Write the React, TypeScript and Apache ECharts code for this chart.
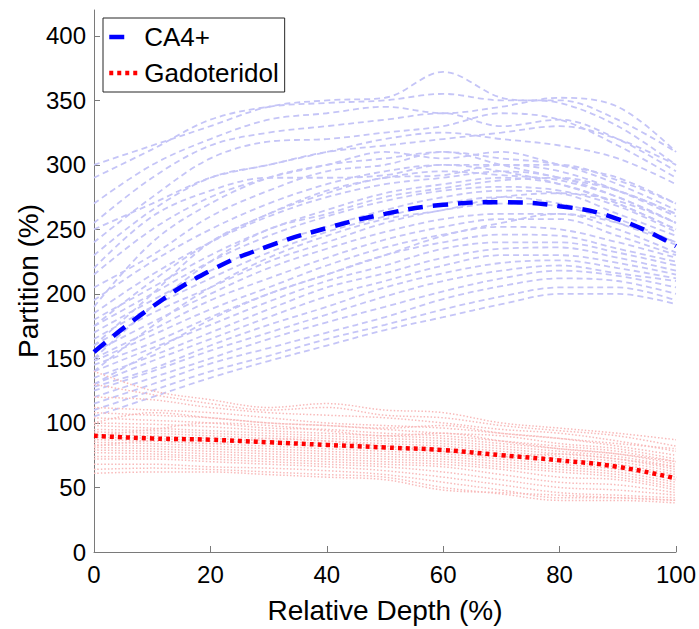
import React, { useEffect, useRef } from "react";
import * as echarts from "echarts";

const DEPTH = [0, 10, 20, 30, 40, 50, 60, 70, 80, 90, 100];
const X_TICKS = [0, 20, 40, 60, 80, 100];
const Y_TICKS = [0, 50, 100, 150, 200, 250, 300, 350, 400];

const CA4_MEAN = [155, 190, 218, 237, 251, 262, 269, 271, 268, 258, 237];
const GADO_MEAN = [90, 88, 87, 85, 83, 81, 79, 75, 71, 66, 57];

const CA4_SAMPLES = [
  [300, 315, 330, 345, 350, 352, 372, 352, 348, 330, 300],
  [290, 312, 335, 345, 348, 350, 355, 350, 350, 335, 310],
  [270, 300, 320, 335, 340, 345, 340, 345, 352, 345, 310],
  [255, 290, 315, 325, 330, 335, 340, 330, 335, 320, 295],
  [240, 275, 305, 318, 320, 325, 330, 340, 335, 315, 290],
  [230, 265, 290, 300, 310, 320, 325, 320, 315, 305, 285],
  [215, 250, 275, 290, 300, 310, 305, 310, 300, 290, 270],
  [205, 230, 260, 280, 295, 300, 310, 305, 300, 285, 265],
  [195, 225, 250, 270, 285, 295, 300, 300, 295, 280, 260],
  [185, 215, 240, 260, 275, 285, 290, 295, 290, 275, 255],
  [180, 205, 230, 250, 265, 278, 285, 290, 285, 270, 250],
  [175, 200, 225, 245, 260, 272, 280, 283, 280, 268, 248],
  [170, 195, 218, 238, 252, 265, 275, 280, 278, 262, 245],
  [165, 190, 212, 232, 248, 260, 270, 275, 270, 258, 240],
  [160, 185, 205, 225, 240, 255, 265, 270, 268, 255, 238],
  [155, 178, 200, 220, 235, 248, 258, 262, 262, 250, 232],
  [150, 172, 195, 212, 228, 242, 252, 258, 258, 245, 230],
  [148, 168, 188, 205, 222, 236, 246, 252, 250, 240, 228],
  [145, 162, 182, 200, 215, 230, 240, 246, 245, 235, 225],
  [140, 158, 176, 194, 210, 222, 235, 240, 240, 232, 222],
  [135, 152, 170, 188, 205, 216, 228, 235, 236, 228, 218],
  [130, 148, 165, 182, 198, 210, 222, 230, 230, 224, 215],
  [128, 142, 160, 176, 190, 205, 216, 224, 226, 220, 212],
  [125, 140, 156, 170, 184, 198, 210, 218, 222, 216, 210],
  [120, 135, 150, 165, 178, 190, 202, 212, 218, 214, 205],
  [115, 130, 146, 158, 170, 182, 196, 206, 212, 210, 200],
  [110, 125, 140, 152, 165, 176, 188, 198, 205, 205, 195],
  [105, 120, 135, 148, 160, 172, 182, 192, 200, 200, 192],
  [160, 200, 240, 262, 280, 290, 295, 292, 288, 275, 255],
  [190, 240, 270, 290, 300, 305, 310, 300, 290, 280, 262],
  [150, 190, 225, 250, 262, 275, 282, 288, 290, 280, 262],
  [140, 175, 205, 228, 245, 258, 265, 275, 278, 272, 255],
  [220, 260, 280, 290, 290, 292, 300, 295, 285, 270, 250],
  [175, 210, 240, 262, 278, 290, 292, 300, 300, 288, 270],
  [130, 155, 180, 200, 215, 230, 245, 255, 262, 255, 240],
  [250, 270, 290, 300, 310, 315, 320, 325, 330, 320, 300],
];

const GADO_SAMPLES = [
  [140, 125, 118, 112, 115, 110, 108, 100, 96, 92, 87],
  [130, 122, 115, 110, 112, 106, 104, 98, 94, 90, 82],
  [120, 118, 112, 108, 106, 104, 100, 95, 92, 86, 78],
  [112, 110, 108, 104, 100, 98, 96, 92, 88, 82, 75],
  [108, 106, 104, 100, 98, 95, 92, 90, 84, 80, 72],
  [104, 102, 100, 96, 95, 92, 90, 86, 82, 78, 70],
  [100, 99, 97, 94, 92, 90, 88, 84, 80, 76, 68],
  [98, 96, 94, 92, 90, 88, 86, 82, 78, 74, 66],
  [95, 94, 92, 90, 88, 86, 84, 80, 76, 72, 64],
  [93, 92, 90, 88, 86, 84, 82, 78, 74, 70, 62],
  [91, 90, 88, 86, 84, 82, 80, 76, 72, 68, 60],
  [89, 88, 86, 84, 82, 80, 78, 74, 70, 66, 58],
  [87, 86, 84, 82, 80, 78, 76, 72, 68, 64, 56],
  [85, 84, 82, 80, 78, 76, 74, 70, 66, 62, 54],
  [83, 82, 80, 78, 76, 74, 72, 68, 64, 60, 52],
  [81, 80, 78, 76, 74, 72, 70, 66, 62, 58, 50],
  [79, 78, 76, 74, 72, 70, 68, 64, 58, 56, 48],
  [77, 76, 74, 72, 70, 68, 66, 60, 54, 52, 46],
  [74, 74, 72, 70, 68, 66, 62, 56, 50, 48, 44],
  [72, 72, 70, 68, 66, 63, 58, 52, 46, 44, 42],
  [68, 68, 66, 65, 63, 60, 54, 48, 42, 42, 40],
  [64, 65, 64, 62, 60, 58, 50, 45, 40, 40, 38],
  [61, 62, 62, 60, 58, 56, 48, 46, 44, 42, 40],
  [90, 95, 100, 98, 94, 90, 92, 86, 80, 76, 70],
  [100, 108, 104, 100, 98, 96, 98, 92, 88, 84, 80],
  [82, 86, 84, 88, 86, 82, 78, 74, 76, 72, 66],
];

const FONT = "'Liberation Sans', Arial, Helvetica, sans-serif";
const AXIS_COLOR = "#7a7a7a";

function toPoints(vals: number[]) {
  return DEPTH.map((d, i) => [d, vals[i]]);
}

export default function App() {
  const ref = useRef<HTMLDivElement>(null);
  useEffect(() => {
    document.body.style.margin = "0";
    if (!ref.current) return;
    const chart = echarts.init(ref.current, undefined, { renderer: "svg" });

    const blueThin = CA4_SAMPLES.map((vals, k) => ({
      name: "ca4_" + k,
      type: "line",
      data: toPoints(vals),
      symbol: "none",
      smooth: 0.35,
      silent: true,
      z: 1,
      lineStyle: { color: "#c5c5f7", width: 1.8, type: [6, 4] },
    }));
    const redThin = GADO_SAMPLES.map((vals, k) => ({
      name: "gado_" + k,
      type: "line",
      data: toPoints(vals),
      symbol: "none",
      smooth: 0.35,
      silent: true,
      z: 1,
      lineStyle: { color: "#f8baba", width: 1.5, type: [1.5, 2] },
    }));

    chart.setOption({
      animation: false,
      backgroundColor: "#ffffff",
      textStyle: { fontFamily: FONT },
      grid: { left: 94, right: 22, top: 10, bottom: 77, containLabel: false },
      legend: {
        data: [
          { name: "CA4+", lineStyle: { width: 4.5, type: [15, 15] } },
          { name: "Gadoteridol", lineStyle: { width: 4.5, type: [4, 4] } },
        ],
        orient: "vertical",
        left: 103,
        top: 18,
        padding: [6, 6, 6, 4],
        itemGap: 10,
        itemWidth: 30,
        itemHeight: 14,
        borderColor: "#262626",
        borderWidth: 1,
        backgroundColor: "#ffffff",
        itemStyle: { opacity: 0 },
        lineStyle: { width: 4.5 },
        textStyle: { fontSize: 26, color: "#000", fontFamily: FONT },
      },
      xAxis: {
        type: "value",
        min: 0,
        max: 100,
        interval: 20,
        name: "Relative Depth (%)",
        nameLocation: "middle",
        nameGap: 44,
        nameMoveOverlap: false,
        nameTextStyle: { fontSize: 28, color: "#000", fontFamily: FONT },
        axisLine: { show: true, lineStyle: { color: AXIS_COLOR, width: 1 } },
        axisTick: { show: true, inside: true, length: 6, lineStyle: { color: AXIS_COLOR }, customValues: X_TICKS },
        axisLabel: { fontSize: 24, color: "#000", margin: 10, fontFamily: FONT, customValues: X_TICKS },
        splitLine: { show: false },
      },
      yAxis: {
        type: "value",
        min: 0,
        max: 420,
        name: "Partition (%)",
        nameLocation: "middle",
        nameGap: 52,
        nameMoveOverlap: false,
        nameTextStyle: { fontSize: 28, color: "#000", fontFamily: FONT },
        axisLine: { show: true, lineStyle: { color: AXIS_COLOR, width: 1 } },
        axisTick: { show: true, inside: true, length: 6, lineStyle: { color: AXIS_COLOR }, customValues: Y_TICKS },
        axisLabel: { fontSize: 24, color: "#000", margin: 8, fontFamily: FONT, customValues: Y_TICKS },
        splitLine: { show: false },
      },
      series: [
        ...blueThin,
        ...redThin,
        {
          name: "CA4+",
          type: "line",
          data: toPoints(CA4_MEAN),
          symbol: "none",
          smooth: true,
          z: 5,
          itemStyle: { color: "#0000ff" },
          lineStyle: { color: "#0000ff", width: 4.5, type: [15, 10] },
        },
        {
          name: "Gadoteridol",
          type: "line",
          data: toPoints(GADO_MEAN),
          symbol: "none",
          smooth: true,
          z: 5,
          itemStyle: { color: "#ff0000" },
          lineStyle: { color: "#ff0000", width: 4.5, type: [4, 4] },
        },
      ],
    });
    return () => chart.dispose();
  }, []);
  return <div ref={ref} style={{ width: 699, height: 629 }} />;
}
